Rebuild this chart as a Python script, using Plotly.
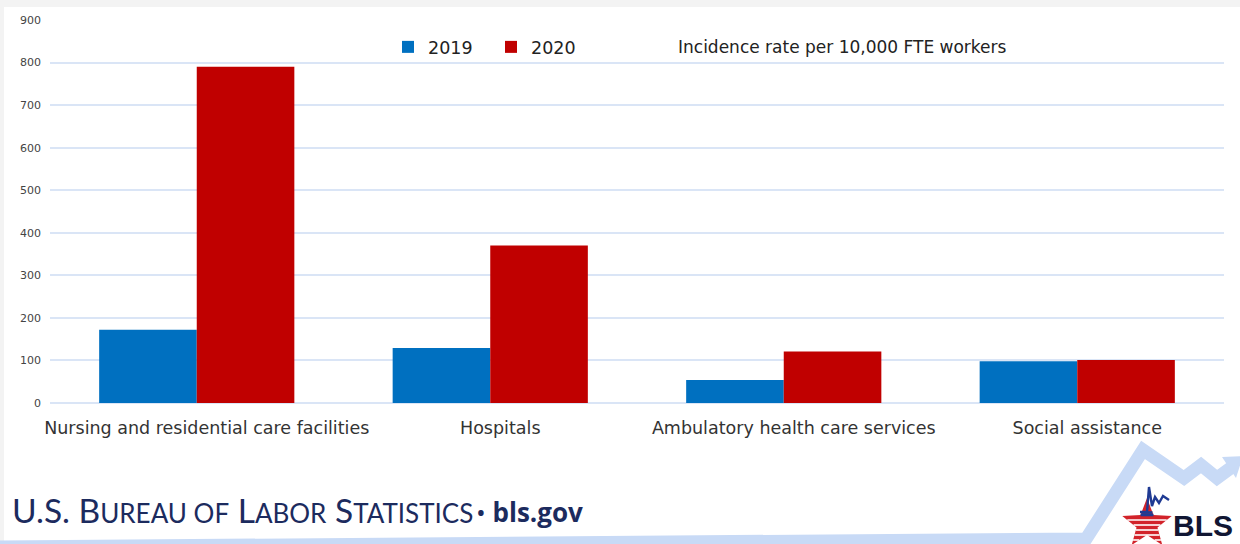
import math
import plotly.graph_objects as go

# ---------------- data ----------------
categories = [
    "Nursing and residential care facilities",
    "Hospitals",
    "Ambulatory health care services",
    "Social assistance",
]
years = ["2019", "2020"]
rate_2019 = [172, 129, 54, 98]
rate_2020 = [790, 370, 121, 101]
y_tick_values = [0, 100, 200, 300, 400, 500, 600, 700, 800, 900]
y_tick_labels = ["0", "100", "200", "300", "400", "500", "600", "700", "800", "900"]

# ---------------- layout helpers (page pixel coordinates) ----------------
W, H = 1240, 544
PL, PT, PR, PB = 50, 20, 1224, 403     # plot area in page pixels
L, T, R, B = PL, PT, W - PR, H - PB
PW, PH = PR - PL, PB - PT


def px(x):
    return (x - PL) / PW


def py(y):
    return (PB - y) / PH


BLUE = "#0070c0"
RED = "#c00000"
GRID = "#dae5f6"
NAVY = "#1c2b5e"
TXT = "DejaVu Sans"

fig = go.Figure()
fig.add_trace(go.Bar(name=years[0], x=categories, y=rate_2019, marker_color=BLUE,
                     marker_line_width=0))
fig.add_trace(go.Bar(name=years[1], x=categories, y=rate_2020, marker_color=RED,
                     marker_line_width=0))

shapes = []
annotations = []

# light-grey frame edges (top and left)
shapes.append(dict(type="rect", xref="paper", yref="paper", x0=px(0), x1=px(W), y0=py(7), y1=py(0),
                   fillcolor="#f3f3f3", line_width=0, layer="below"))
shapes.append(dict(type="rect", xref="paper", yref="paper", x0=px(0), x1=px(4), y0=py(H), y1=py(0),
                   fillcolor="#f3f3f3", line_width=0, layer="below"))

# decorative light-blue zigzag arrow (BLS footer)
pts = [(0, 547), (1086, 539), (1143, 450), (1184, 478), (1201, 465), (1217, 478), (1232, 467)]
path = "M " + " L ".join(f"{px(x):.5f},{py(y):.5f}" for x, y in pts)
shapes.append(dict(type="path", xref="paper", yref="paper", path=path,
                   line=dict(color="#c8daf6", width=13), layer="below"))
head = [(1243, 456), (1222, 457), (1236, 478)]
path = "M " + " L ".join(f"{px(x):.5f},{py(y):.5f}" for x, y in head) + " Z"
shapes.append(dict(type="path", xref="paper", yref="paper", path=path,
                   fillcolor="#c8daf6", line_width=0, layer="below"))

# BLS star logo
cx, cy, ro, ri = 1147, 524, 26, 11
star = []
for k in range(10):
    ang = math.radians(90 + 36 * k)
    r = ro if k % 2 == 0 else ri
    star.append((cx + r * math.cos(ang), cy - r * math.sin(ang)))
path = "M " + " L ".join(f"{px(x):.5f},{py(y):.5f}" for x, y in star) + " Z"
shapes.append(dict(type="path", xref="paper", yref="paper", path=path,
                   fillcolor="#d2232a", line_width=0))


def hsegments(poly, yy):
    xs = []
    n = len(poly)
    for i in range(n):
        (x1, y1), (x2, y2) = poly[i], poly[(i + 1) % n]
        if (y1 - yy) * (y2 - yy) < 0:
            xs.append(x1 + (yy - y1) * (x2 - x1) / (y2 - y1))
    xs.sort()
    return [(xs[i], xs[i + 1]) for i in range(0, len(xs) - 1, 2)]


for yy in [512.5, 515]:
    for a, b in hsegments(star, yy):
        shapes.append(dict(type="line", xref="paper", yref="paper", x0=px(a), x1=px(b),
                           y0=py(yy), y1=py(yy), line=dict(color="#1f3a93", width=2.6)))
for yy in [520, 525, 530, 535, 540]:
    for a, b in hsegments(star, yy):
        shapes.append(dict(type="line", xref="paper", yref="paper", x0=px(a), x1=px(b),
                           y0=py(yy), y1=py(yy), line=dict(color="white", width=1.6)))
pulse = [(1140, 512), (1147, 512), (1149, 487), (1152, 506), (1155, 497), (1159, 503), (1163, 496),
         (1169, 500)]
path = "M " + " L ".join(f"{px(x):.5f},{py(y):.5f}" for x, y in pulse)
shapes.append(dict(type="path", xref="paper", yref="paper", path=path,
                   line=dict(color="#1f3a93", width=2.4)))

annotations.append(dict(xref="paper", yref="paper", x=px(1172), y=py(525), xanchor="left",
                        yanchor="middle", showarrow=False, text="<b>BLS</b>", borderpad=0,
                        font=dict(family="Liberation Sans", size=30, color="#111633")))

# footer text
sc = 'style="font-size:26px"'
footer = (f"U.S. B<span {sc}>UREAU OF</span> L<span {sc}>ABOR</span> "
          f"S<span {sc}>TATISTICS</span>")
annotations.append(dict(xref="paper", yref="paper", x=px(10), y=py(510), xanchor="left",
                        yanchor="middle", showarrow=False, text=footer,
                        font=dict(family="Lato", size=33.5, color=NAVY)))
annotations.append(dict(xref="paper", yref="paper", x=px(474), y=py(512), xanchor="left",
                        yanchor="middle", showarrow=False, text="\u2022 <b>bls.gov</b>",
                        font=dict(family="Open Sans", size=26, color=NAVY)))

# caption next to legend
annotations.append(dict(xref="paper", yref="paper", x=px(676), y=py(47), xanchor="left",
                        yanchor="middle", showarrow=False,
                        text="Incidence rate per 10,000 FTE workers",
                        font=dict(family=TXT, size=17, color="#222222")))

fig.update_layout(
    width=W, height=H,
    margin=dict(l=L, r=R, t=T, b=B),
    paper_bgcolor="white", plot_bgcolor="white",
    barmode="group", bargap=0.335, bargroupgap=0,
    font=dict(family=TXT, color="#333333"),
    showlegend=True,
    legend=dict(orientation="h", x=px(388), y=py(47), xanchor="left", yanchor="middle",
                bgcolor="rgba(0,0,0,0)", font=dict(family=TXT, size=17.5, color="#222222"),
                itemwidth=30, entrywidth=58, entrywidthmode="pixels", traceorder="normal"),
    shapes=shapes, annotations=annotations,
    xaxis=dict(showgrid=False, showline=False, ticks="",
               tickfont=dict(family=TXT, size=17.5, color="#333333"),
               ticklabelstandoff=12, ticklabelshift=10, fixedrange=True),
    yaxis=dict(range=[0, 900], tickvals=y_tick_values, ticktext=y_tick_labels,
               showgrid=True, gridcolor=GRID, gridwidth=1.5, zeroline=True, zerolinecolor=GRID,
               zerolinewidth=1.5, showline=False, ticks="",
               tickfont=dict(family=TXT, size=11, color="#444444"),
               ticklabelstandoff=8, fixedrange=True),
)

fig.write_html("out.html", config={"displayModeBar": False},
               post_script="document.body.style.margin='0';document.body.style.overflow='hidden';")
